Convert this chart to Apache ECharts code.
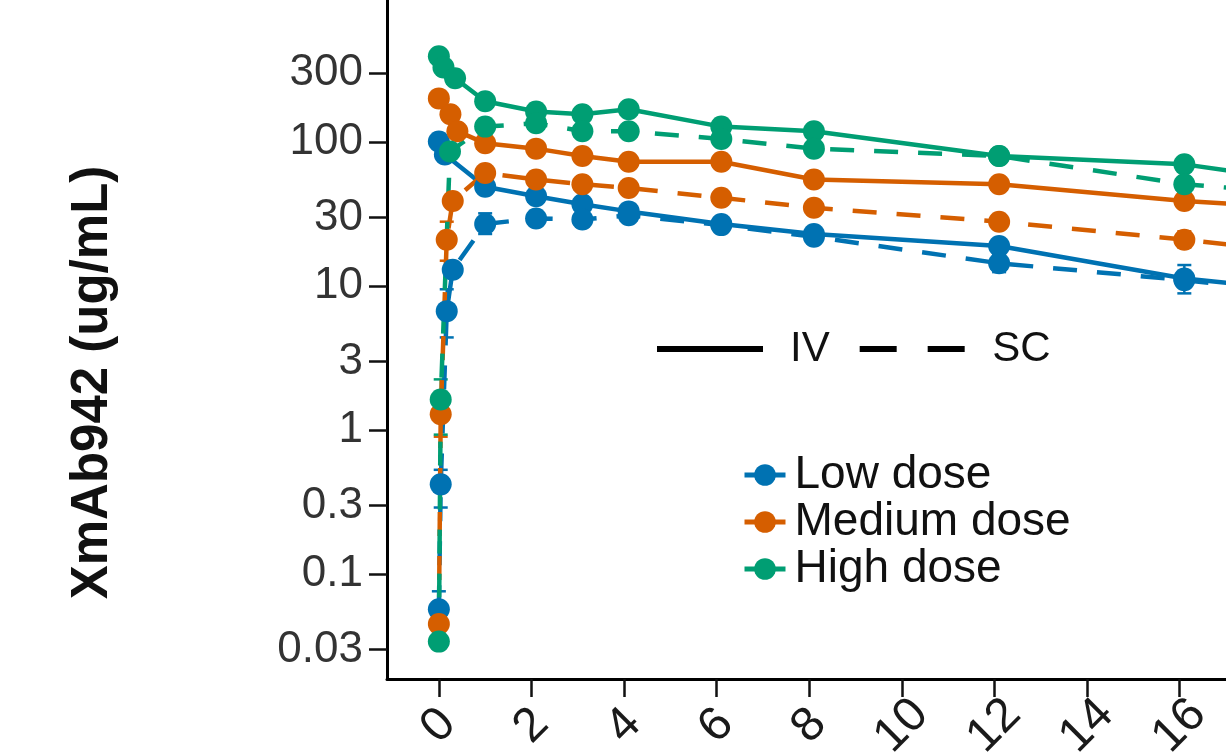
<!DOCTYPE html>
<html>
<head>
<meta charset="utf-8">
<script src="https://cdn.jsdelivr.net/npm/echarts@6/dist/echarts.min.js"></script>
<style>
  html, body { margin: 0; padding: 0; background: #fff; }
  #pk { width: 1226px; height: 755px; }
</style>
</head>
<body>
<div id="pk"></div>
<script>
// sampling times (days) and concentrations (ug/mL)
var lowIvT   = [0, 0.13, 1, 2.1, 3.1, 4.1, 6.1, 8.1, 12.1, 16.1, 21];
var lowIv    = [101, 82, 49, 42, 37, 33, 27, 23, 19, 11.3, 7.8];
var medIvT   = [0, 0.25, 0.4, 1, 2.1, 3.1, 4.1, 6.1, 8.1, 12.1, 16.1, 21];
var medIv    = [201, 156, 119, 98, 90, 80, 73, 73, 55, 51, 39, 31];
var highIvT  = [0, 0.1, 0.35, 1, 2.1, 3.1, 4.1, 6.1, 8.1, 12.1, 16.1, 21];
var highIv   = [394, 330, 277, 192, 163, 156, 169, 128, 119, 80, 70, 42];

var lowScT   = [0, 0.04, 0.17, 0.3, 1, 2.1, 3.1, 4.1, 6.1, 8.1, 12.1, 16.1, 21];
var lowSc    = [0.057, 0.42, 6.7, 13, 27, 29.5, 29, 31, 26.5, 22, 14.4, 11, 7.5];
var medScT   = [0, 0.04, 0.17, 0.3, 1, 2.1, 3.1, 4.1, 6.1, 8.1, 12.1, 16.1, 21];
var medSc    = [0.045, 1.29, 21, 39, 61, 55, 51, 48, 41, 35, 28, 21, 14];
var highScT  = [0, 0.04, 0.24, 1, 2.1, 3.1, 4.1, 6.1, 8.1, 12.1, 16.1, 21];
var highSc   = [0.034, 1.63, 86, 128, 135, 119, 119, 105, 90, 80, 51, 38];

// error bars: time, lower, upper
var lowErrT  = [0, 0.04, 0.17, 1, 12.1, 16.1];
var lowErrLo = [0.045, 0.29, 4.4, 23, 12.5, 8.9];
var lowErrHi = [0.076, 0.53, 9.5, 32, 16.5, 14];
var medErrT  = [0, 0.04, 0.17, 16.1];
var medErrLo = [0.036, 0.9, 15, 18.5];
var medErrHi = [0.06, 1.8, 28, 24];
var highErrT  = [0.04, 6.1, 8.1, 16.1];
var highErrLo = [0.93, 98, 84, 45];
var highErrHi = [2.25, 140, 128, 57];

var doses    = ['Low dose', 'Medium dose', 'High dose'];
var colors   = ['#0072B2', '#D55E00', '#009E73'];
var yTicks   = [0.03, 0.1, 0.3, 1, 3, 10, 30, 100, 300];
var xTicks   = [0, 2, 4, 6, 8, 10, 12, 14, 16];

function pairs(t, v) {
    return t.map(function (x, i) { return [x, v[i]]; });
}
function triples(t, lo, hi) {
    return t.map(function (x, i) { return [x, lo[i], hi[i]]; });
}

var ivData  = [pairs(lowIvT, lowIv), pairs(medIvT, medIv), pairs(highIvT, highIv)];
var scData  = [pairs(lowScT, lowSc), pairs(medScT, medSc), pairs(highScT, highSc)];
var errData = [triples(lowErrT, lowErrLo, lowErrHi), triples(medErrT, medErrLo, medErrHi),
               triples(highErrT, highErrLo, highErrHi)];

function errorBar(color) {
    return function (params, api) {
        var lo = api.coord([api.value(0), api.value(1)]);
        var hi = api.coord([api.value(0), api.value(2)]);
        var w = 7;
        var st = {stroke: color, lineWidth: 2.5};
        return {
            type: 'group',
            children: [
                {type: 'line', shape: {x1: lo[0], y1: lo[1], x2: hi[0], y2: hi[1]}, style: st},
                {type: 'line', shape: {x1: lo[0] - w, y1: lo[1], x2: lo[0] + w, y2: lo[1]}, style: st},
                {type: 'line', shape: {x1: hi[0] - w, y1: hi[1], x2: hi[0] + w, y2: hi[1]}, style: st}
            ]
        };
    };
}

var series = [];
for (var i = 0; i < 3; i++) {
    series.push({
        name: doses[i] + ' sd', type: 'custom', data: errData[i],
        renderItem: errorBar(colors[i]), z: 1, silent: true
    });
}
for (var i = 0; i < 3; i++) {
    series.push({
        name: doses[i], type: 'line', data: ivData[i],
        symbol: 'circle', symbolSize: 22, z: 2,
        itemStyle: {color: colors[i]},
        lineStyle: {color: colors[i], width: 4.5}
    });
    series.push({
        name: doses[i], type: 'line', data: scData[i],
        symbol: 'circle', symbolSize: 22, z: 2,
        itemStyle: {color: colors[i]},
        lineStyle: {color: colors[i], width: 4.5, type: [24, 20]}
    });
}
// empty series only used for the route legend
series.push({name: 'IV', type: 'line', data: [], symbol: 'none', itemStyle: {color: '#000'}});
series.push({name: 'SC', type: 'line', data: [], symbol: 'none', itemStyle: {color: '#000'}});

var font = '"Liberation Sans", Arial, sans-serif';

option = {
    animation: false,
    grid: {left: 387, right: 0, top: 0, bottom: 76, containLabel: false, outerBoundsMode: 'none'},
    legend: [
        {
            data: doses, orient: 'vertical', left: 737, top: 447,
            itemWidth: 41, itemHeight: 27, itemGap: 1,
            selectedMode: false,
            lineStyle: {width: 5},
            textStyle: {fontFamily: font, fontSize: 46, color: '#111', padding: [0, 0, 0, 4]}
        },
        {
            data: [
                {name: 'IV', icon: 'rect'},
                {name: 'SC', icon: 'path://M0,0h37v6h-37z M68,0h37v6h-37z'}
            ],
            orient: 'horizontal', left: 652, top: 323,
            itemWidth: 106, itemHeight: 6, itemGap: 30,
            selectedMode: false,
            itemStyle: {color: '#000'},
            textStyle: {fontFamily: font, fontSize: 42, color: '#111', padding: [0, 0, 0, 22]}
        }
    ],
    xAxis: {
        type: 'value', min: -1.12, max: 17.0,
        splitLine: {show: false},
        axisLine: {onZero: false, lineStyle: {color: '#000', width: 3}},
        axisTick: {length: 18, customValues: xTicks, lineStyle: {color: '#111', width: 2.5}},
        axisLabel: {
            customValues: xTicks, rotate: 45, margin: 47,
            align: 'center', verticalAlign: 'middle',
            fontFamily: font, fontSize: 48, color: '#1a1a1a'
        }
    },
    yAxis: {
        type: 'log', logBase: 10, min: 0.0187, max: 969,
        splitLine: {show: false},
        axisLine: {show: true, onZero: false, lineStyle: {color: '#000', width: 3}},
        axisTick: {show: true, length: 18, customValues: yTicks, lineStyle: {color: '#111', width: 2.5}},
        axisLabel: {
            customValues: yTicks, margin: 24,
            fontFamily: font, fontSize: 44, color: '#333',
            formatter: function (v) { return String(+(+v).toPrecision(2)); }
        },
        name: 'XmAb942 (ug/mL)', nameLocation: 'middle', nameGap: 269,
        nameTextStyle: {
            fontFamily: font, fontSize: 51, fontWeight: 'bold', color: '#111',
            padding: [0, 86, 0, 0]
        }
    },
    series: series
};
var myChart = echarts.init(document.getElementById('pk'));
myChart.setOption(option);
</script>
</body>
</html>
